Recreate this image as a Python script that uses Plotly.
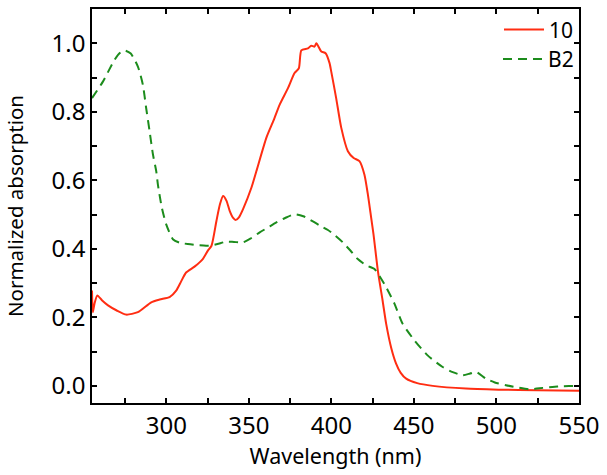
import plotly.graph_objects as go

# Series "10" (solid red)
wl_10 = [255.0, 255.5, 256.5, 258.2, 261.0, 264.7, 270.0, 275.7, 282.8, 290.9, 296.0, 302.0, 306.0,
         309.0, 312.0, 317.1, 322.1, 325.1, 327.4, 330.4, 332.5, 334.4, 336.5, 338.4, 340.5, 342.0,
         344.0, 346.5, 351.6, 354.6, 360.6, 365.0, 368.7, 373.7, 377.7, 380.3, 381.8, 385.8, 387.8,
         389.8, 390.9, 393.9, 396.5, 398.9, 399.9, 402.9, 406.0, 410.0, 413.5, 417.0, 420.0, 422.1,
         424.1, 425.5, 428.3, 431.0, 433.2, 436.3, 439.2, 442.0, 445.3, 452.0, 461.4, 481.5, 501.7,
         525.0, 550.0]
abs_10 = [0.278, 0.215, 0.24, 0.264, 0.25, 0.235, 0.22, 0.208, 0.215, 0.244, 0.252, 0.259, 0.278,
          0.305, 0.331, 0.348, 0.37, 0.394, 0.409, 0.482, 0.53, 0.554, 0.54, 0.511, 0.49, 0.484,
          0.492, 0.516, 0.579, 0.627, 0.724, 0.775, 0.821, 0.869, 0.913, 0.927, 0.979, 0.985, 0.993,
          0.99, 1.0, 0.976, 0.971, 0.942, 0.918, 0.84, 0.753, 0.685, 0.665, 0.656, 0.617, 0.559,
          0.491, 0.443, 0.331, 0.25, 0.181, 0.11, 0.065, 0.038, 0.021, 0.008, 0.0, -0.008, -0.011,
          -0.013, -0.014]

# Series "B2" (dashed green)
wl_b2 = [255.0, 261.6, 268.7, 272.0, 274.8, 278.5, 282.8, 285.8, 287.8, 289.9, 291.9, 293.9, 294.9,
         297.3, 299.9, 304.0, 308.0, 313.0, 318.0, 324.1, 326.3, 331.0, 336.4, 341.0, 346.5, 351.0,
         356.6, 361.5, 366.7, 372.0, 377.7, 383.0, 388.8, 393.0, 397.9, 402.0, 406.9, 411.5, 416.0,
         421.0, 426.1, 429.5, 433.2, 438.2, 443.2, 450.3, 458.3, 467.4, 473.5, 479.5, 484.0, 487.6,
         493.6, 499.0, 505.7, 512.0, 519.8, 526.0, 533.9, 540.0, 548.0, 550.0]
abs_b2 = [0.84, 0.888, 0.952, 0.972, 0.979, 0.97, 0.932, 0.879, 0.811, 0.743, 0.676, 0.627, 0.588,
          0.52, 0.472, 0.428, 0.418, 0.414, 0.411, 0.409, 0.409, 0.414, 0.421, 0.42, 0.419, 0.43,
          0.448, 0.462, 0.477, 0.49, 0.501, 0.495, 0.48, 0.468, 0.455, 0.44, 0.419, 0.395, 0.37,
          0.352, 0.341, 0.318, 0.288, 0.24, 0.181, 0.133, 0.089, 0.055, 0.04, 0.031, 0.036, 0.041,
          0.021, 0.01, 0.002, -0.004, -0.01, -0.007, -0.003, -0.001, 0.0, 0.0]

x_ticks = [300, 350, 400, 450, 500, 550]
y_ticks = [0.0, 0.2, 0.4, 0.6, 0.8, 1.0]
y_tick_text = ["0.0", "0.2", "0.4", "0.6", "0.8", "1.0"]

FONT = "Noto Sans"

fig = go.Figure()
fig.add_trace(go.Scatter(x=wl_10, y=abs_10, mode="lines", name="10", legend="legend", showlegend=True,
                         line=dict(color="#ff2d12", width=2, shape="spline", smoothing=0.6)))
fig.add_trace(go.Scatter(x=wl_b2, y=abs_b2, mode="lines", name="B2", legend="legend2", showlegend=True,
                         line=dict(color="#1c8c1c", width=2, dash="9px,6px", shape="spline", smoothing=0.6)))

axis_common = dict(
    showline=True, linecolor="black", linewidth=1.5, mirror="ticks",
    ticks="inside", ticklen=5, tickwidth=1.5, tickcolor="black",
    showgrid=False, zeroline=False,
    tickfont=dict(family=FONT, size=24, color="black"),
)

fig.update_xaxes(range=[255, 550], tickvals=x_ticks,
                 minor=dict(dtick=25, tick0=0, ticks="inside", ticklen=5, tickwidth=1.5, tickcolor="black"),
                 title=dict(text="Wavelength (nm)", font=dict(family=FONT, size=21.5, color="black"), standoff=4),
                 **axis_common)
fig.update_yaxes(range=[-0.05, 1.1], tickvals=y_ticks, ticktext=y_tick_text,
                 minor=dict(dtick=0.1, tick0=0, ticks="inside", ticklen=5, tickwidth=1.5, tickcolor="black"),
                 title=dict(text="Normalized absorption", font=dict(family=FONT, size=20.5, color="black"), standoff=22),
                 **axis_common)

legend_common = dict(xanchor="right", yanchor="middle", bgcolor="rgba(0,0,0,0)",
                     font=dict(family=FONT, size=21, color="black"), itemwidth=40)

fig.update_layout(
    width=607, height=475,
    margin=dict(l=92, r=28, t=7, b=72),
    plot_bgcolor="white", paper_bgcolor="white",
    font=dict(family=FONT, color="black"),
    showlegend=True,
    legend=dict(x=1.0, y=0.947, **legend_common),
    legend2=dict(x=1.0, y=0.872, **legend_common),
)

fig.write_html("out.html", config={"displayModeBar": False},
               post_script="document.body.style.margin='0';document.body.style.padding='0';")
